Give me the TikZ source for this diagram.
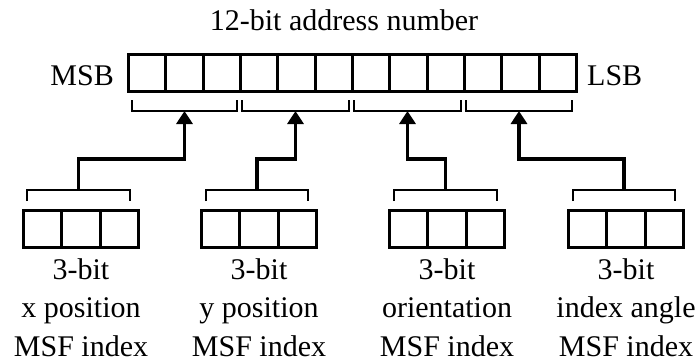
\documentclass[tikz,border=0pt]{standalone}
\usepackage{fontspec}
\setmainfont{Liberation Serif}
\usetikzlibrary{arrows.meta}
\begin{document}
\begin{tikzpicture}[x=1pt,y=-1pt,
  cell/.style={draw,line width=3pt,minimum height=37pt,inner sep=0pt,anchor=north west},
  bigcell/.style={cell,minimum width=37.33pt},
  smallcell/.style={cell,minimum width=38.33pt},
  brk/.style={line width=1.5pt},
  conn/.style={line width=3.5pt,-{Triangle[width=16pt,length=13pt]}},
  lbl/.style={font=\fontsize{30}{38.5}\selectfont,inner sep=0pt},
  blbl/.style={lbl,align=center,anchor=north}]
\useasboundingbox (0,0) rectangle (698,361);
% top register
\foreach \i in {0,...,11} {
  \node[bigcell] (c\i) at ({127+\i*37.333},53) {};
}
\node[lbl,anchor=base] (title) at (344,31) {12-bit address number};
\node[lbl,anchor=base east] (msb) at (114,85) {MSB};
\node[lbl,anchor=base west] (lsb) at (587,85) {LSB};
% top brackets
\foreach \g/\a/\b in {1/132/237,2/242/349,3/354/461,4/466/572} {
  \draw[brk] (\a,100) -- (\a,111) -- (\b,111) -- (\b,100);
  \coordinate (tb\g) at ({(\a+\b)/2},111);
}
% small registers
\foreach \g/\x in {1/22,2/200,3/388,4/567} {
  \foreach \j in {0,1,2} {
    \node[smallcell] (s\g\j) at ({\x+\j*38.333},209) {};
  }
}
% lower brackets
\foreach \g/\a/\b in {1/27/130,2/206/308,3/394/497,4/573/675} {
  \draw[brk] (\a,201) -- (\a,190) -- (\b,190) -- (\b,201);
  \coordinate (lb\g) at ({(\a+\b)/2},190);
}
\coordinate (h) at (0,159);
\foreach \g in {1,2,3,4} {
  \draw[conn] (lb\g) -- (lb\g |- h) -| (tb\g);
}
% labels
\node[blbl] (t1) at (s11.south |- 0,258) {3-bit\\x position\\MSF index};
\node[blbl] (t2) at (s21.south |- 0,258) {3-bit\\y position\\MSF index};
\node[blbl] (t3) at (s31.south |- 0,258) {3-bit\\orientation\\MSF index};
\node[blbl] (t4) at (s41.south |- 0,258) {3-bit\\index angle\\MSF index};
\end{tikzpicture}
\end{document}
